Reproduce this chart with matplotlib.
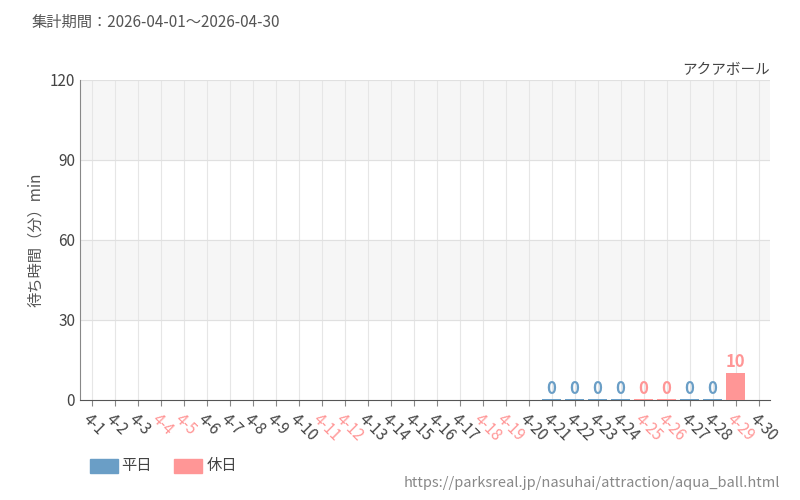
import matplotlib
matplotlib.use("Agg")
import matplotlib.pyplot as plt

plt.rcParams['font.family'] = ['Noto Sans CJK JP', 'DejaVu Sans']

days = [f"4-{d}" for d in range(1, 31)]
holidays = ["4-4","4-5","4-11","4-12","4-18","4-19","4-25","4-26","4-29"]
values = {"4-21":0,"4-22":0,"4-23":0,"4-24":0,"4-25":0,"4-26":0,"4-27":0,"4-28":0,"4-29":10}

BLUE = "#6a9ec6"
RED = "#ff9696"

fig = plt.figure(figsize=(8, 5), dpi=100)
ax = fig.add_axes([0.10, 0.20, 0.8625, 0.64])
ax.set_xlim(-0.5, len(days) - 0.5)
ax.set_ylim(0, 120)
ax.axhspan(90, 120, color="#f6f6f6", zorder=0)
ax.axhspan(30, 60, color="#f6f6f6", zorder=0)
for i in range(len(days)):
    ax.axvline(i, color="#e6e6e6", lw=0.8, zorder=1)
for y in (30, 60, 90, 120):
    ax.axhline(y, color="#e0e0e0", lw=0.8, zorder=1)

for i, d in enumerate(days):
    if d in values:
        v = values[d]
        c = RED if d in holidays else BLUE
        ax.bar(i, max(v, 0.4), width=0.8, color=c, zorder=3)
        ax.text(i, v + 0.8, str(v), ha="center", va="bottom", color=c, fontsize=12,
                fontweight="bold", zorder=4)

ax.set_yticks([0, 30, 60, 90, 120])
ax.tick_params(axis="y", length=0, labelsize=11, labelcolor="#444444")
ax.set_xticks(range(len(days)))
ax.set_xticklabels(days, rotation=-45, ha="left", rotation_mode="anchor", fontsize=11)
for lbl, d in zip(ax.get_xticklabels(), days):
    lbl.set_color(RED if d in holidays else "#444444")
ax.tick_params(axis="x", length=4, color="#888888")
for s in ("top", "right"):
    ax.spines[s].set_visible(False)
ax.spines["left"].set_color("#888888")
ax.spines["bottom"].set_color("#555555")
ax.set_ylabel("待ち時間（分）min", color="#555555", fontsize=11)

fig.text(0.04, 0.955, "集計期間：2026-04-01～2026-04-30", fontsize=11, color="#555555", va="center")
fig.text(0.9625, 0.86, "アクアボール", fontsize=10.5, color="#444444", ha="right", va="center")
fig.patches.append(plt.Rectangle((0.112, 0.055), 0.035, 0.028, color=BLUE, transform=fig.transFigure))
fig.text(0.152, 0.069, "平日", fontsize=11, color="#444444", va="center")
fig.patches.append(plt.Rectangle((0.218, 0.055), 0.035, 0.028, color=RED, transform=fig.transFigure))
fig.text(0.258, 0.069, "休日", fontsize=11, color="#444444", va="center")
fig.text(0.975, 0.033, "https://parksreal.jp/nasuhai/attraction/aqua_ball.html", fontsize=10.5, color="#888888", ha="right", va="center")
fig.savefig("out.png")
